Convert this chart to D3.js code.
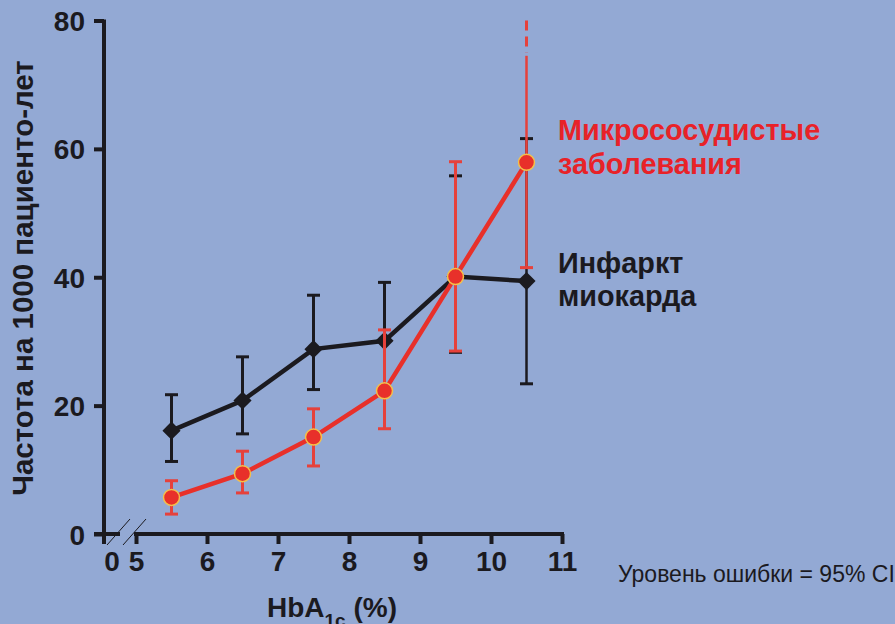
<!DOCTYPE html>
<html>
<head>
<meta charset="utf-8">
<script src="https://cdn.jsdelivr.net/npm/d3@7"></script>
<style>
  body { margin: 0; background: #93a9d4; }
  svg { display: block; font-family: "Liberation Sans", Arial, sans-serif; }
</style>
</head>
<body>
<svg id="chart" width="895" height="624"></svg>
<script>
// HbA1c categories (midpoints of the bins)
const hba1c = [5.5, 6.5, 7.5, 8.5, 9.5, 10.5];

// myocardial infarction, per 1000 patient-years, with 95% CI
const infarct = [16.1, 20.8, 28.8, 30.1, 40.1, 39.4];
const infarctLow = [11.3, 15.6, 22.5, 22.5, 28.3, 23.4];
const infarctHigh = [21.7, 27.6, 37.2, 39.2, 55.8, 61.6];

// microvascular disease, per 1000 patient-years, with 95% CI
const micro = [5.7, 9.4, 15.1, 22.3, 40.1, 57.9];
const microLow = [3.1, 6.4, 10.6, 16.4, 28.5, 41.5];
const microHigh = [8.3, 12.9, 19.5, 31.8, 58.0, 80];
const microSolidTo = 74.5; // last bar runs off the chart, dashed above this

const xTicks = [5, 6, 7, 8, 9, 10, 11];
const yTicks = [0, 20, 40, 60, 80];

const red = "#e8302a";
const redBar = "#e6413b";
const black = "#1b1a1f";

const svg = d3.select("#chart");
const x0 = 104; // where the y axis sits (the broken "0" of x)

const x = d3.scaleLinear().domain([5, 11]).range([136, 562]);
const y = d3.scaleLinear().domain([0, 80]).range([534, 20.5]);

// y axis
const yAxis = svg.append("g")
    .attr("transform", "translate(" + x0 + ",0)")
    .call(d3.axisLeft(y).tickValues(yTicks).tickSize(10).tickSizeOuter(0).tickPadding(9));
yAxis.select(".domain").remove();
yAxis.selectAll(".tick line").attr("stroke", black).attr("stroke-width", 4);
yAxis.selectAll(".tick text")
    .attr("fill", black)
    .style("font-size", "28px")
    .style("font-weight", "bold")
    .attr("dy", "0.36em");
yAxis.append("line")
    .attr("x1", 0).attr("x2", 0)
    .attr("y1", y(80) - 1).attr("y2", y(0) + 10)
    .attr("stroke", black).attr("stroke-width", 4);

// x axis
const xAxis = svg.append("g")
    .attr("transform", "translate(0," + y(0) + ")")
    .call(d3.axisBottom(x).tickValues(xTicks).tickFormat(d3.format("d"))
      .tickSize(10).tickSizeOuter(0).tickPadding(7));
xAxis.select(".domain").attr("stroke", black).attr("stroke-width", 4)
    .attr("d", "M" + (x(5) - 2) + ",0H" + (x(11) + 2));
xAxis.selectAll(".tick line").attr("stroke", black).attr("stroke-width", 4);
xAxis.selectAll(".tick text")
    .attr("fill", black)
    .style("font-size", "28px")
    .style("font-weight", "bold");

// short piece before the break, with its own "0"
xAxis.append("line")
    .attr("x1", x0 - 10).attr("x2", x0 + 16)
    .attr("y1", 0).attr("y2", 0)
    .attr("stroke", black).attr("stroke-width", 4);
xAxis.append("text")
    .attr("x", x0 + 8).attr("y", 17).attr("dy", "0.71em")
    .attr("text-anchor", "middle")
    .attr("fill", black)
    .style("font-size", "28px").style("font-weight", "bold")
    .text("0");
// break marks
[0, 16].forEach(function(dx) {
  xAxis.append("line")
      .attr("x1", x0 + 3 + dx).attr("y1", 11)
      .attr("x2", x0 + 26 + dx).attr("y2", -15)
      .attr("stroke", black).attr("stroke-width", 1);
});

// axis titles
svg.append("text")
    .attr("transform", "translate(33,278) rotate(-90)")
    .attr("text-anchor", "middle")
    .attr("fill", black)
    .style("font-size", "29.5px").style("font-weight", "bold")
    .text("Частота на 1000 пациенто-лет");

const xt = svg.append("text")
    .attr("x", 267).attr("y", 617)
    .attr("fill", black)
    .style("font-size", "28px").style("font-weight", "bold");
xt.append("tspan").text("HbA");
xt.append("tspan").attr("dy", 10).style("font-size", "19px").text("1c");
xt.append("tspan").attr("dy", -10).text(" (%)");

// error bars
function bars(lo, hi, color, widths) {
  const g = svg.append("g").attr("stroke", color);
  hba1c.forEach(function(v, i) {
    const top = hi[i] > microSolidTo ? microSolidTo : hi[i];
    g.append("line")
        .attr("x1", x(v)).attr("x2", x(v))
        .attr("y1", y(lo[i])).attr("y2", y(top))
        .attr("stroke-width", widths[i]);
    g.append("line")
        .attr("x1", x(v) - 6.5).attr("x2", x(v) + 6.5)
        .attr("y1", y(lo[i])).attr("y2", y(lo[i]))
        .attr("stroke-width", 3);
    if (hi[i] < 80) {
      g.append("line")
          .attr("x1", x(v) - 6.5).attr("x2", x(v) + 6.5)
          .attr("y1", y(hi[i])).attr("y2", y(hi[i]))
          .attr("stroke-width", 3);
    } else {
      g.append("line")
          .attr("x1", x(v)).attr("x2", x(v))
          .attr("y1", y(80)).attr("y2", y(microSolidTo) - 3)
          .attr("stroke-width", 3)
          .attr("stroke-dasharray", "10,6");
    }
  });
}

const line = d3.line()
    .x(function(d, i) { return x(hba1c[i]); })
    .y(function(d) { return y(d); });

// infarct series
bars(infarctLow, infarctHigh, black, [3, 3, 3, 3, 2.5, 2.5]);
svg.append("path")
    .datum(infarct)
    .attr("fill", "none")
    .attr("stroke", black)
    .attr("stroke-width", 4.5)
    .attr("d", line);
svg.selectAll(".diamond")
    .data(infarct)
    .enter().append("path")
    .attr("class", "diamond")
    .attr("d", d3.symbol(d3.symbolSquare, 165))
    .attr("transform", function(d, i) { return "translate(" + x(hba1c[i]) + "," + y(d) + ") rotate(45)"; })
    .attr("fill", black);

// microvascular series
bars(microLow, microHigh, redBar, [3, 3, 3, 3, 3, 2.5]);
svg.append("path")
    .datum(micro)
    .attr("fill", "none")
    .attr("stroke", red)
    .attr("stroke-width", 4.5)
    .attr("d", line);
svg.selectAll(".dot")
    .data(micro)
    .enter().append("circle")
    .attr("class", "dot")
    .attr("cx", function(d, i) { return x(hba1c[i]); })
    .attr("cy", function(d) { return y(d); })
    .attr("r", 8)
    .attr("fill", red)
    .attr("stroke", "#f4c04a")
    .attr("stroke-width", 1.5);

// labels
const lab = svg.append("g").style("font-size", "28.8px").style("font-weight", "bold");
lab.append("text").attr("x", 558).attr("y", 140).attr("fill", "#e82228").text("Микрососудистые");
lab.append("text").attr("x", 558).attr("y", 174).attr("fill", "#e82228").text("заболевания");
lab.append("text").attr("x", 558).attr("y", 273).attr("fill", black).text("Инфаркт");
lab.append("text").attr("x", 558).attr("y", 306).attr("fill", black).text("миокарда");

svg.append("text")
    .attr("x", 618).attr("y", 582)
    .attr("fill", black)
    .style("font-size", "23px")
    .text("Уровень ошибки = 95% CI");
</script>
</body>
</html>
